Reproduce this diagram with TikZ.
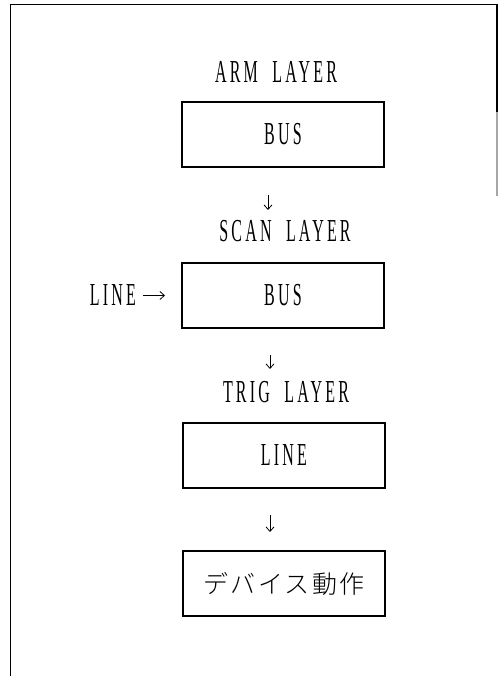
\documentclass[tikz,border=0pt]{standalone}
\usepackage{fontspec}
\setmainfont{Liberation Serif}[FakeStretch=0.5,LetterSpace=10,WordSpace=2]
\newfontfamily\jpfont{Noto Sans CJK JP Light}[LetterSpace=10]
\usetikzlibrary{arrows.meta,positioning}

\begin{document}
\begin{tikzpicture}[
  x=1pt, y=1pt,
  font=\fontsize{32}{36}\selectfont,
  layer/.style={draw, line width=1.6pt, minimum width=202pt, minimum height=65pt, inner sep=0pt},
  lbl/.style={inner sep=0pt},
  ar/.style={-{Straight Barb[length=4.5pt,width=8pt]}, line width=0.8pt},
  frame/.style={line width=1.2pt}
]
\useasboundingbox (0,0) rectangle (498,676);
% ---- frame ------------------------------------------------------------------
\draw[frame] (10.5,0) -- (10.5,671.5) -- (497,671.5) -- (497,564);
\draw[frame, black!35] (497,564) -- (497,480);

% ---- nodes ------------------------------------------------------------------
\node[lbl] (arm) at (276,604) {ARM LAYER};
\node[layer] (armbus) at (283,541.5) {BUS};

\node[lbl] (scan) at (285,444.5) {SCAN LAYER};
\node[layer] (scanbus) at (283,380.5) {BUS};
\node[lbl] (linein) at (113,380.5) {LINE};

\node[lbl] (trig) at (286,284) {TRIG LAYER};
\node[layer] (trigline) at (284,220.5) {LINE};

\node[layer, font=\jpfont\fontsize{25}{30}\selectfont] (dev) at (284,92.5) {デバイス動作};

% ---- arrows -----------------------------------------------------------------
\coordinate (a1) at (268,481);
\coordinate (a1e) at (268,466);
\coordinate (a2) at (270,321);
\coordinate (a2e) at (270,307);
\coordinate (a3) at (270,161);
\coordinate (a3e) at (270,144);
\coordinate (a4) at (143,380.5);
\coordinate (a4e) at (165,380.5);
\draw[ar] (a1) -- (a1e);
\draw[ar] (a2) -- (a2e);
\draw[ar] (a3) -- (a3e);
\draw[ar] (a4) -- (a4e);
\end{tikzpicture}
\end{document}
